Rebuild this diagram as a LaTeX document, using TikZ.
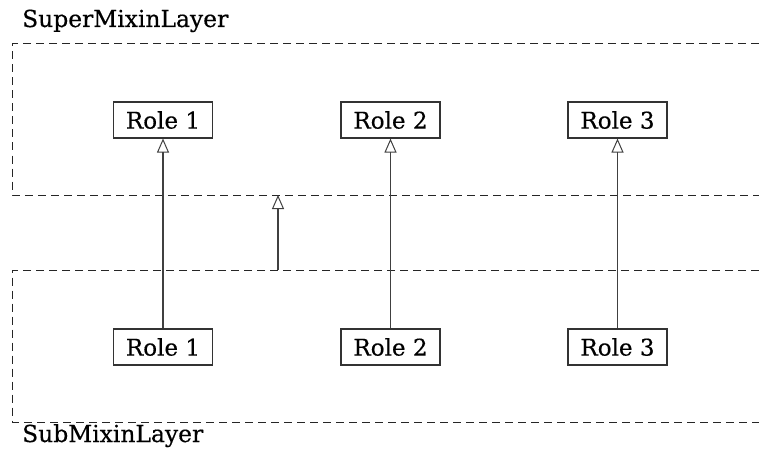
\documentclass[tikz,border=0pt]{standalone}
\usepackage{fontspec}
\setmainfont{DejaVu Serif}[FakeBold=0.4]
\usetikzlibrary{arrows.meta}
\begin{document}
\begin{tikzpicture}[x=1pt,y=1pt,
  layerline/.style={draw=black!85,line width=1pt,dash pattern=on 8pt off 5pt},
  rolebox/.style={draw=black!80,line width=1.1pt,minimum width=99pt,minimum height=36pt,
    inner sep=0pt,font=\fontsize{23}{26}\selectfont},
  layertitle/.style={anchor=base west,inner sep=0pt,font=\fontsize{23.4}{26}\selectfont},
  inherit/.style={draw=black!75,line width=1.1pt,
    -{Triangle[open,length=14pt,width=12pt,line width=1pt]}}]
\useasboundingbox (0,0) rectangle (759,456);

% layer titles
\node[layertitle] (suptitle) at (22,429) {SuperMixinLayer};
\node[layertitle] (subtitle) at (22,14) {SubMixinLayer};

% layer frames, open to the right
\draw[layerline] (759,412) -- (12.5,412) -- (12.5,261) -- (759,261);
\draw[layerline] (759,186) -- (12.5,186) -- (12.5,34) -- (759,34);

% roles of the super layer
\node[rolebox] (t1) at (163,336) {Role 1};
\node[rolebox] (t2) at (390.5,336) {Role 2};
\node[rolebox] (t3) at (617.5,336) {Role 3};

% roles of the sub layer
\node[rolebox] (b1) at (163,109) {Role 1};
\node[rolebox] (b2) at (390.5,109) {Role 2};
\node[rolebox] (b3) at (617.5,109) {Role 3};

% layer-to-layer inheritance
\coordinate (subtop) at (278,186);
\coordinate (supbot) at (278,261);
\draw[inherit] (subtop) -- (supbot);

% role-to-role inheritance
\draw[inherit] (b1) -- (t1);
\draw[inherit] (b2) -- (t2);
\draw[inherit] (b3) -- (t3);
\end{tikzpicture}
\end{document}
